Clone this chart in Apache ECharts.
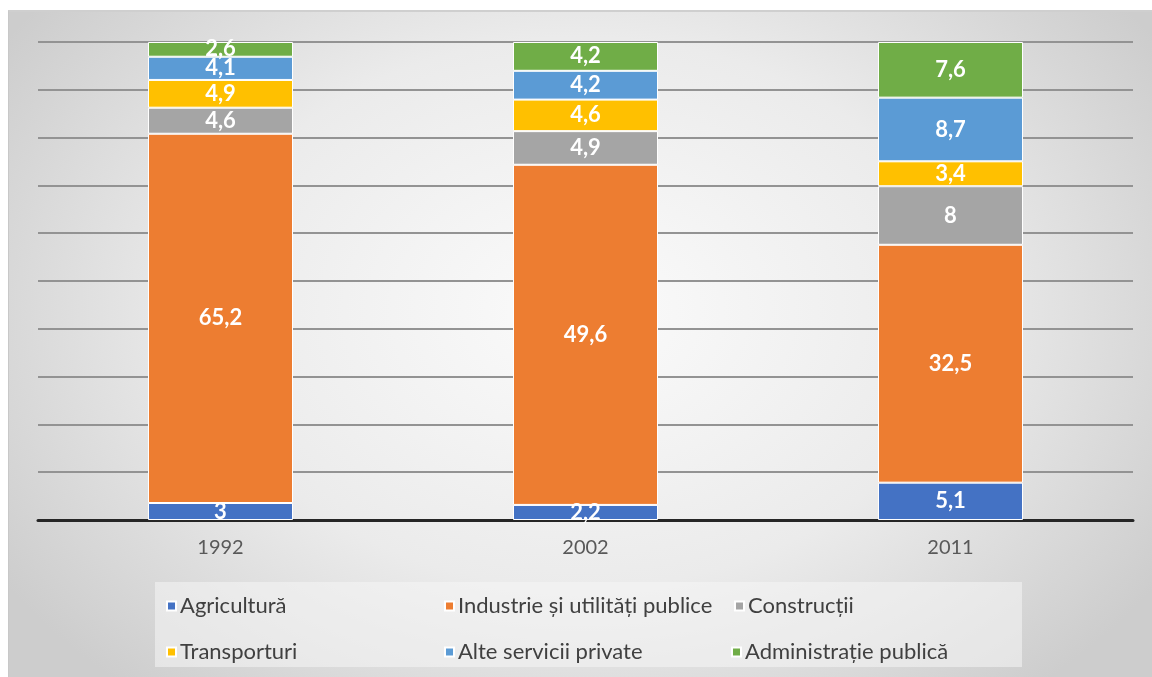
<!DOCTYPE html>
<html>
<head>
<meta charset="utf-8">
<script src="https://cdn.jsdelivr.net/npm/echarts@6/dist/echarts.min.js"></script>
<style>
  html, body { margin: 0; padding: 0; background: #fff; }
  .bg {
    position: absolute; left: 8px; top: 10px; width: 1144px; height: 667px;
    border-top: 2px solid #cfcfcf; border-left: 1px solid #c8c8c8;
    background: radial-gradient(ellipse 60% 75% at 50% 45%, #fbfbfb 0%, #ebebeb 55%, #cdcdcd 100%);
  }
  #chart { position: absolute; left: 0; top: 0; width: 1152px; height: 677px; }
</style>
</head>
<body>
<div class="bg"></div>
<div id="chart"></div>
<script>
// ani si sectoare
const years = ['1992', '2002', '2011']
const sectors = ['Agricultură', 'Industrie și utilități publice', 'Construcții',
  'Transporturi', 'Alte servicii private', 'Administrație publică']
const colors = ['#4472C4', '#ED7D31', '#A5A5A5', '#FFC000', '#5B9BD5', '#70AD47']

// valori
const agricultura = [3, 2.2, 5.1]
const industrie = [65.2, 49.6, 32.5]
const constructii = [4.6, 4.9, 8]
const transporturi = [4.9, 4.6, 3.4]
const alteServicii = [4.1, 4.2, 8.7]
const administratie = [2.6, 4.2, 7.6]

const raw = [agricultura, industrie, constructii, transporturi, alteServicii, administratie]
const totals = years.map((y, i) => raw.reduce((s, arr) => s + arr[i], 0))

const font = 'Lato, "Open Sans", sans-serif'

const series = raw.map((arr, k) => ({
  name: sectors[k],
  type: 'bar',
  stack: 'total',
  barWidth: 145,
  itemStyle: { color: colors[k], borderColor: '#ffffff', borderWidth: 1 },
  label: {
    show: true,
    position: 'inside',
    color: '#fff',
    fontFamily: font,
    fontWeight: 'bold',
    fontSize: 22,
    formatter: p => String(arr[p.dataIndex]).replace('.', ',')
  },
  data: arr.map((v, i) => v / totals[i] * 100) // 100% stivuit
}))

// pozitii legenda (3 coloane x 2 randuri)
const legendPos = [[161, 590], [439, 590], [729, 590], [161, 636], [439, 636], [726, 636]]
const legends = sectors.map((s, k) => ({
  data: [s],
  left: legendPos[k][0],
  top: legendPos[k][1],
  icon: 'rect',
  itemWidth: 9,
  itemHeight: 9,
  itemGap: 4,
  textStyle: { fontFamily: font, fontSize: 22, color: '#404040', padding: [0, 0, 0, -1] },
  selectedMode: false
}))

const chart = echarts.init(document.getElementById('chart'))
chart.setOption({
  animation: false,
  grid: { left: 38, right: 19, top: 42, bottom: 157 },
  graphic: [{
    type: 'rect',
    shape: { x: 155, y: 582, width: 867, height: 85 },
    style: { fill: 'rgba(245,245,245,0.55)' },
    z: -1
  }],
  legend: legends,
  xAxis: {
    type: 'category',
    data: years,
    axisLine: { lineStyle: { color: '#262626', width: 3 } },
    axisTick: { show: false },
    axisLabel: { color: '#595959', fontFamily: font, fontSize: 20, margin: 18 }
  },
  yAxis: {
    type: 'value',
    min: 0,
    max: 100,
    interval: 10,
    axisLabel: { show: false },
    axisLine: { show: false },
    axisTick: { show: false },
    splitLine: { lineStyle: { color: '#939393', width: 2 } }
  },
  series: series
})
</script>
</body>
</html>
